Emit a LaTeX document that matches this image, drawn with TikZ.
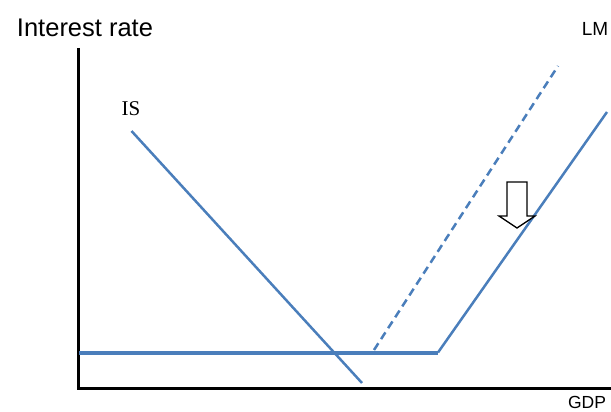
\documentclass[tikz,border=0pt]{standalone}
\usepackage{fontspec}
\setmainfont{Liberation Sans}
\newfontfamily\serifis{Liberation Serif}
\definecolor{curve}{RGB}{74,126,187}
\begin{document}
\begin{tikzpicture}[x=1pt,y=-1pt,
  axis/.style={line width=3pt,black},
  curveline/.style={line width=2.5pt,curve},
  lbl/.style={inner sep=0pt,anchor=base}]
\useasboundingbox (0,0) rectangle (611,412);
% axes
\coordinate (origin) at (78,388);
\coordinate (ytop) at (78,48);
\coordinate (xend) at (611,388);
\draw[axis] (ytop) -- (origin) -- (xend);
% labels
\node[lbl,font=\fontsize{25.5}{25.5}\selectfont] (ylab) at (85,37) {Interest rate};
\node[lbl,font=\fontsize{19}{19}\selectfont] (lmlab) at (595,35.5) {LM};
\node[lbl,font=\serifis\fontsize{21}{21}\selectfont] (islab) at (131,115.5) {IS};
\node[lbl,font=\fontsize{17.5}{17.5}\selectfont] (gdplab) at (587,408) {GDP};
% IS
\coordinate (is1) at (131.5,131);
\coordinate (is2) at (362,383);
\draw[curveline] (is1) -- (is2);
% horizontal
\coordinate (h1) at (79,352.5);
\coordinate (h2) at (438,352.5);
\draw[curve,line width=4pt] (h1) -- (h2);
% LM solid
\coordinate (lm2) at (607,112);
\draw[curveline] (h2) -- (lm2);
% LM dashed
\coordinate (d1) at (374,350);
\coordinate (d2) at (558,66);
\draw[curveline,dash pattern=on 8pt off 5pt] (d1) -- (d2);
% hollow arrow
\draw[line width=1.3pt,black,fill=white,line join=miter] (507,182) -- (527,182) -- (527,216) -- (535,216) -- (517,228) -- (499,216) -- (507,216) -- cycle;
\end{tikzpicture}
\end{document}
